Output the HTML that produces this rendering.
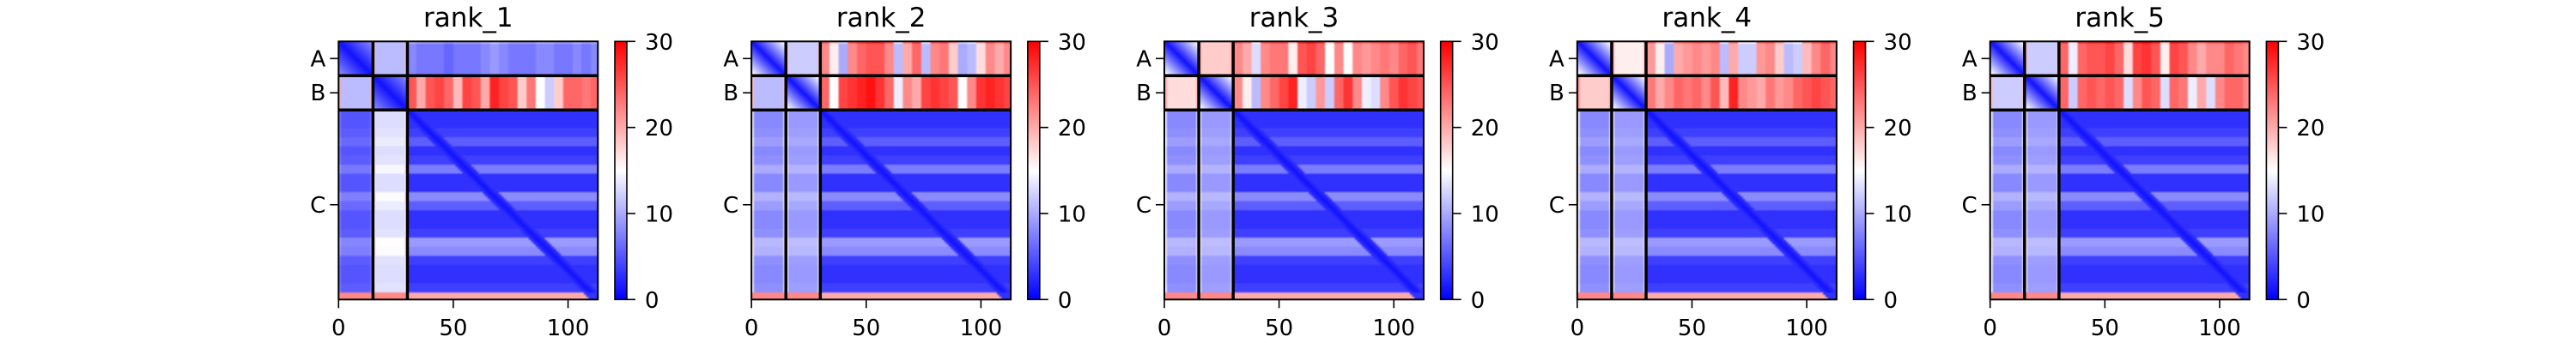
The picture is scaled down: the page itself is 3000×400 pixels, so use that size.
<!DOCTYPE html>
<html><head><meta charset="utf-8"><style>
html,body{margin:0;padding:0;background:#fff;}
#root{position:relative;width:3000px;height:400px;overflow:hidden;background:#fff;}
canvas{position:absolute;image-rendering:auto;}
svg{position:absolute;left:0;top:0;}
text{font-family:"DejaVu Sans","Liberation Sans",sans-serif;fill:#000;}
</style></head><body>
<div id="root">
<svg id="svg" width="3000" height="400"></svg>
</div>
<script>
// ---- data ----
const panelTitles = ["rank_1","rank_2","rank_3","rank_4","rank_5"];
const chainNames = ["A","B","C"];
const chainStarts = [0,15,30];
const chainEnds = [15,30,113];
const xTicks = [0,50,100];
const cbTicks = [0,10,20,30];
const vmax = 30;
// C-row profile sampled every 4 residues from residue 30
const rowC = [3,3,4,6,3,4,8,3,3,9,6,3,3,4,10,9,4,3,3,4,20];
// A-rows vs C-columns, per rank
const aC1 = [8,7,7,7,6,7,7,7,8,9,8,7,7,7,8,8,7,7,8,7,8];
const aC2 = [22,16,10,22,24,25,25,22,11,20,24,11,22,23,18,10,11,17,22,20,22];
const aC3 = [22,20,13,22,23,23,16,25,26,24,15,22,15,22,21,22,23,22,24,25,23];
const aC4 = [21,16,10,20,21,22,21,22,11,20,12,12,21,22,18,11,12,19,22,24,22];
const aC5 = [24,14,24,25,25,26,24,17,26,27,25,16,26,25,22,20,22,22,24,23,22];
// B-rows vs C-columns, per rank
const bC1 = [25,20,25,26,24,19,26,25,20,28,26,25,18,23,15,12,18,24,24,23,24];
const bC2 = [24,15,26,27,28,29,27,24,14,22,20,26,27,26,25,15,22,27,28,27,26];
const bC3 = [22,16,11,22,24,26,28,14,12,21,12,24,27,22,14,13,22,25,27,26,25];
const bC4 = [23,20,22,24,23,24,22,25,19,28,22,21,20,23,21,22,24,25,26,25,24];
const bC5 = [24,12,24,25,24,25,24,13,22,25,24,13,24,23,14,20,13,22,24,24,22];
// block levels per rank: [AAslope, ABinner, ABedge, BAinner, BAedge, CAbase, CAedge, CBbase, CBedge]
const blk1 = [0.5,11,19,11,20,5,7,13,16];
const blk2 = [1.0,12,19,11,19,8,14,9,14];
const blk3 = [1.0,18,21,17,21,8,14,9,14];
const blk4 = [1.0,16,21,18,22,8,14,9,14];
const blk5 = [1.0,12,19,12,19,8,14,9,14];
const aCs=[aC1,aC2,aC3,aC4,aC5], bCs=[bC1,bC2,bC3,bC4,bC5], blks=[blk1,blk2,blk3,blk4,blk5];

// ---- layout ----
const N = 113, axL0 = 394.3, dx = 480.85, axT = 48.3, axW = 302, axH = 301;
const cbOff = 321.7, cbW = 14;
const NS='http://www.w3.org/2000/svg';
const svg=document.getElementById('svg');
const root=document.getElementById('root');
function el(tag,attrs,parent){const e=document.createElementNS(NS,tag);for(const k in attrs)e.setAttribute(k,attrs[k]);(parent||svg).appendChild(e);return e;}
function chainOf(i){return i<15?0:(i<30?1:2);}
function val(p,i,j){
  const ci=chainOf(i), cj=chainOf(j), b=blks[p];
  const kC=Math.min(20,Math.floor((j-30)/4)), kR=Math.min(20,Math.floor((i-30)/4));
  if(ci===cj && ci<2){return 1+Math.abs(i-j)*b[0];}
  if(ci===0&&cj===1){const e=(j<=15||j>=29)?1:0;return b[1]+(b[2]-b[1])*e;}
  if(ci===1&&cj===0){const e=(j<=0||j>=14)?1:0;return b[3]+(b[4]-b[3])*e;}
  if(ci===0) return aCs[p][kC] + (i===0?3:0);
  if(ci===1) return bCs[p][kC];
  // C rows
  if(i>=110) return (cj===2? (Math.abs(i-j)<4?3:20):22);
  if(cj===0){const e=(j<=0||j>=14)?1:0;return b[5]+(b[6]-b[5])*e+(rowC[kR]-3)*0.4;}
  if(cj===1){const e=(j<=15||j>=29)?1:0;return b[7]+(b[8]-b[7])*e+(rowC[kR]-3)*0.3;}
  const d=Math.abs(i-j);
  return 1+Math.min(d,3)*0.6+(d>3?(rowC[kR]-3)*0.9:0);
}
function bwr(v){const t=Math.max(0,Math.min(1,v/vmax));
  if(t<0.5){const c=Math.round(2*t*255);return [c,c,255];}
  const c=Math.round((2-2*t)*255);return [255,c,c];}
const sx=axW/N, sy=axH/N;
for(let p=0;p<5;p++){
  const L=axL0+p*dx;
  const g=el('g',{});
  
  
  const cv=document.createElement('canvas');
  cv.width=N;cv.height=N;
  cv.style.left=L+'px';cv.style.top=axT+'px';cv.style.width=axW+'px';cv.style.height=axH+'px';
  
  
  const ctx=cv.getContext('2d');const im=ctx.createImageData(N,N);
  for(let i=0;i<N;i++)for(let j=0;j<N;j++){const c=bwr(val(p,i,j));const o=(i*N+j)*4;im.data[o]=c[0];im.data[o+1]=c[1];im.data[o+2]=c[2];im.data[o+3]=255;}
  ctx.putImageData(im,0,0);
  root.insertBefore(cv,svg);
  for(let k=1;k<3;k++){
    const pos=chainStarts[k];
    const vl=el('line',{x1:L+pos*sx,x2:L+pos*sx,y1:axT,y2:axT+axH,stroke:'#000','stroke-width':3.5},g);
    
    
    const hl=el('line',{x1:L,x2:L+axW,y1:axT+pos*sy,y2:axT+pos*sy,stroke:'#000','stroke-width':3.5},g);
    
    
  }
  const fr=el('rect',{x:L,y:axT,width:axW,height:axH,fill:'none',stroke:'#000','stroke-width':2},g);
  
  
  const tt=el('text',{x:L+axW/2,y:31,'text-anchor':'middle','font-size':31},g);tt.textContent=panelTitles[p];
  
  
  for(let k=0;k<3;k++){
    const y=axT+(chainStarts[k]+chainEnds[k])/2*sy;
    el('line',{x1:L-10,x2:L,y1:y,y2:y,stroke:'#000','stroke-width':1.6},g);
    const t=el('text',{x:L-15,y:y+9,'text-anchor':'end','font-size':26},g);t.textContent=chainNames[k];
    
    
  }
  for(const v of xTicks){
    const x=L+v*sx;
    el('line',{x1:x,x2:x,y1:axT+axH,y2:axT+axH+10,stroke:'#000','stroke-width':1.6},g);
    const t=el('text',{x:x,y:391,'text-anchor':'middle','font-size':26},g);t.textContent=v;
    
    
  }
  const cbL=L+cbOff;
  const gid='grad'+p;
  const lg=el('linearGradient',{id:gid,x1:0,y1:1,x2:0,y2:0},g);
  el('stop',{offset:'0','stop-color':'#0000ff'},lg);
  el('stop',{offset:'0.5','stop-color':'#ffffff'},lg);
  el('stop',{offset:'1','stop-color':'#ff0000'},lg);
  const cb=el('rect',{x:cbL,y:axT,width:cbW,height:axH,fill:'url(#'+gid+')',stroke:'#000','stroke-width':1.6},g);
  
  
  for(const v of cbTicks){
    const y=axT+axH-v/vmax*axH;
    el('line',{x1:cbL+cbW,x2:cbL+cbW+10,y1:y,y2:y,stroke:'#000','stroke-width':1.6},g);
    const t=el('text',{x:cbL+cbW+21,y:y+9.5,'font-size':26},g);t.textContent=v;
    
    
  }
}
</script>
</body></html>
